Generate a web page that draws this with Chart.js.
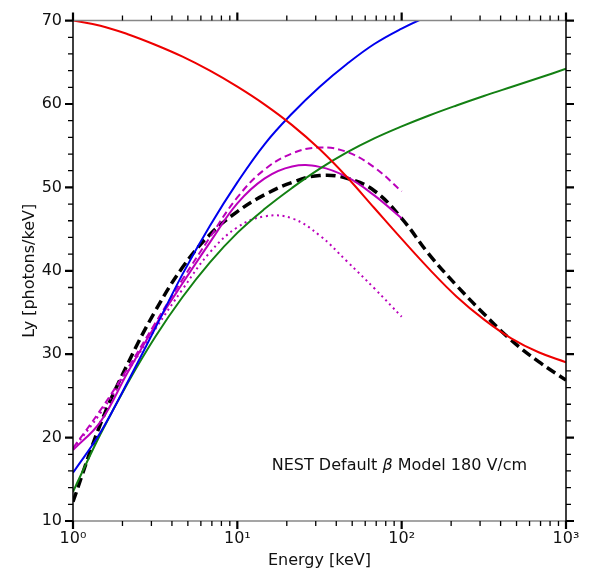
<!DOCTYPE html>
<html>
<head>
<meta charset="utf-8">
<script src="https://cdn.jsdelivr.net/npm/chart.js@4.4.1/dist/chart.umd.min.js"></script>
<style>
  html, body { margin: 0; padding: 0; background: #fff; }
  #wrap { width: 589px; height: 570px; }
</style>
</head>
<body>
<div id="wrap"><canvas id="grafica"></canvas></div>
<script>
// energias (keV), seis puntos por decada
const energyFull = [1, 1.468, 2.154, 3.162, 4.642, 6.813, 10, 14.68, 21.54, 31.62, 46.42, 68.13, 100, 146.8, 215.4, 316.2, 464.2, 681.3, 1000];
const energyBlue = [1, 1.468, 2.154, 3.162, 4.642, 6.813, 10, 14.68, 21.54, 31.62, 46.42, 68.13, 100, 146.8];
const energyLow = [1, 1.468, 2.154, 3.162, 4.642, 6.813, 10, 14.68, 21.54, 31.62, 46.42, 68.13, 100];

// Ly [photons/keV]
const lyRed = [70.0, 69.39, 68.37, 67.11, 65.68, 64.00, 62.08, 59.93, 57.47, 54.60, 51.25, 47.53, 43.82, 40.23, 36.93, 34.18, 31.90, 30.23, 29.04];
const lyBlue = [15.78, 20.6, 26.7, 33.1, 39.6, 45.4, 50.6, 55.2, 58.86, 62.04, 64.79, 67.19, 69.04, 70.6];
const lyGreen = [13.51, 20.40, 26.56, 32.07, 36.86, 41.02, 44.55, 47.43, 49.94, 52.22, 54.19, 55.87, 57.31, 58.62, 59.82, 60.96, 62.04, 63.11, 64.22];
const lyMagSolid = [18.50, 21.89, 27.84, 33.41, 38.50, 43.41, 48.08, 51.08, 52.51, 52.46, 51.25, 49.04, 46.29];
const lyMagDash = [18.74, 23.29, 28.32, 33.71, 38.98, 44.01, 48.80, 52.16, 54.07, 54.79, 54.25, 52.40, 49.52];
const lyMagDot = [18.62, 22.93, 27.96, 32.99, 37.78, 42.22, 45.21, 46.53, 46.29, 44.25, 41.14, 37.90, 34.49];
const lyNest = [12.31, 21.62, 28.86, 35.16, 40.42, 44.35, 47.10, 49.13, 50.60, 51.43, 51.10, 49.60, 46.29, 41.98, 38.26, 34.85, 31.68, 29.10, 26.89];

// ticks
const yMajor = [10, 20, 30, 40, 50, 60, 70];
const yMinor = [12, 14, 16, 18, 22, 24, 26, 28, 32, 34, 36, 38, 42, 44, 46, 48, 52, 54, 56, 58, 62, 64, 66, 68];
const xMajor = [1, 10, 100, 1000];
const xMinor = [2, 3, 4, 5, 6, 7, 8, 9, 20, 30, 40, 50, 60, 70, 80, 90, 200, 300, 400, 500, 600, 700, 800, 900];
const supDigits = { 0: "\u2070", 1: "\u00b9", 2: "\u00b2", 3: "\u00b3" };

const labelText = ["NEST Default ", "\u03b2", " Model 180 V/cm"];

const FONT = "DejaVu Sans";

function pts(xs, ys) {
    return xs.map((x, i) => ({ x: x, y: ys[i] }));
}

function serie(xs, ys, color, width, dash) {
    return {
        data: pts(xs, ys),
        borderColor: color,
        borderWidth: width,
        borderDash: dash,
        pointRadius: 0,
        fill: false,
        tension: 0.4
    };
}

// ticks hacia afuera en los cuatro lados + marco
const marco = {
    id: "marco",
    afterDatasetsDraw(chart) {
        const ctx = chart.ctx;
        const a = chart.chartArea;
        const xs = chart.scales.x;
        const ys = chart.scales.y;
        ctx.save();
        ctx.lineCap = "butt";

        // lineas del marco
        ctx.lineWidth = 1.5;
        ctx.strokeStyle = "#888";
        ctx.beginPath();
        ctx.moveTo(a.left, a.top); ctx.lineTo(a.right, a.top);
        ctx.moveTo(a.left, a.bottom); ctx.lineTo(a.right, a.bottom);
        ctx.stroke();
        ctx.strokeStyle = "#000";
        ctx.beginPath();
        ctx.moveTo(a.left, a.top - 0.75); ctx.lineTo(a.left, a.bottom + 0.75);
        ctx.moveTo(a.right, a.top - 0.75); ctx.lineTo(a.right, a.bottom + 0.75);
        ctx.stroke();

        ctx.strokeStyle = "#000";
        const tick = (vals, len, w) => {
            ctx.lineWidth = w;
            ctx.beginPath();
            vals.forEach(v => {
                const py = ys.getPixelForValue(v);
                ctx.moveTo(a.left, py); ctx.lineTo(a.left - len, py);
                ctx.moveTo(a.right, py); ctx.lineTo(a.right + len, py);
            });
            ctx.stroke();
        };
        const tickX = (vals, len, w) => {
            ctx.lineWidth = w;
            ctx.beginPath();
            vals.forEach(v => {
                const px = xs.getPixelForValue(v);
                ctx.moveTo(px, a.top); ctx.lineTo(px, a.top - len);
                ctx.moveTo(px, a.bottom); ctx.lineTo(px, a.bottom + len);
            });
            ctx.stroke();
        };
        tick(yMajor, 8, 2.2);
        tick(yMinor, 5, 1.3);
        tickX(xMajor, 8, 2.2);
        tickX(xMinor, 5, 1.3);

        // texto del modelo
        ctx.fillStyle = "#111";
        ctx.textBaseline = "middle";
        let px = xs.getPixelForValue(16.2);
        const py = ys.getPixelForValue(16.6);
        labelText.forEach((t, i) => {
            ctx.font = (i === 1 ? "italic " : "") + "16px '" + FONT + "'";
            ctx.fillText(t, px, py);
            px += ctx.measureText(t).width;
        });
        ctx.restore();
    }
};

const grafica = document.querySelector("#grafica").getContext("2d");

const mychart = new Chart(grafica, {
    type: "line",
    data: {
        datasets: [
            serie(energyFull, lyRed, "#ee0000", 2, []),
            serie(energyBlue, lyBlue, "#0000ee", 2, []),
            serie(energyFull, lyGreen, "#138013", 2, []),
            serie(energyLow, lyMagSolid, "#bb00bb", 2, []),
            serie(energyLow, lyMagDash, "#bb00bb", 2, [7, 4]),
            serie(energyLow, lyMagDot, "#bb00bb", 2, [2, 3.6]),
            serie(energyFull, lyNest, "#000000", 3.5, [10, 5])
        ]
    },
    options: {
        responsive: true,
        maintainAspectRatio: false,
        animation: false,
        layout: { padding: { top: 20, right: 23, left: 0, bottom: 0 } },
        plugins: { legend: { display: false }, tooltip: { enabled: false } },
        scales: {
            x: {
                type: "logarithmic",
                min: 1,
                max: 1000,
                grid: { display: false, drawTicks: false },
                border: { display: false },
                afterBuildTicks: s => { s.ticks = xMajor.concat(xMinor).sort((a, b) => a - b).map(v => ({ value: v })); },
                afterFit: s => { s.height = 49; },
                ticks: {
                    autoSkip: false,
                    maxRotation: 0,
                    padding: 8,
                    color: "#111",
                    font: { family: FONT, size: 16 },
                    callback: v => {
                        const d = Math.round(Math.log10(v));
                        return xMajor.includes(v) ? "10" + supDigits[d] : "";
                    }
                },
                title: {
                    display: true,
                    text: "Energy [keV]",
                    color: "#111",
                    font: { family: FONT, size: 16 },
                    padding: { top: 0, bottom: 0 }
                }
            },
            y: {
                min: 10,
                max: 70,
                grid: { display: false, drawTicks: false },
                border: { display: false },
                afterBuildTicks: s => { s.ticks = yMajor.map(v => ({ value: v })); },
                afterFit: s => { s.width = 73; },
                ticks: {
                    padding: 11,
                    color: "#111",
                    font: { family: FONT, size: 16 }
                },
                title: {
                    display: true,
                    text: "Ly [photons/keV]",
                    color: "#111",
                    font: { family: FONT, size: 16 },
                    padding: { top: 20, bottom: 0 }
                }
            }
        }
    },
    plugins: [marco]
});
</script>
</body>
</html>
